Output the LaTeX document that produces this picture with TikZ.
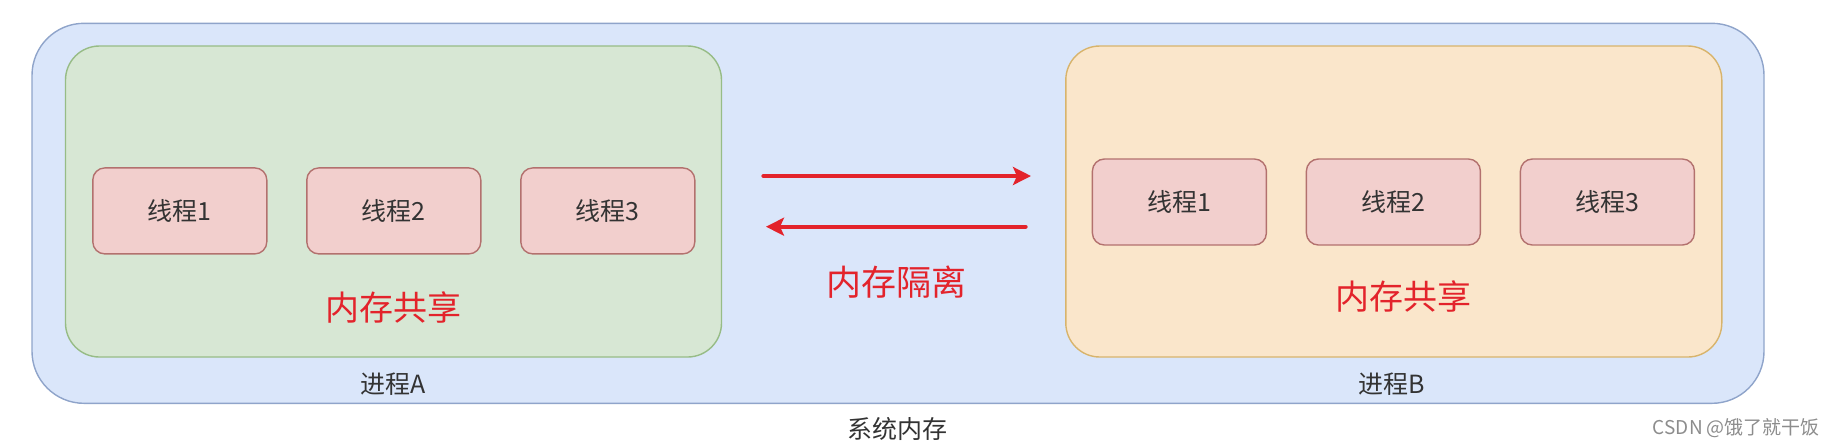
\documentclass[tikz,border=0pt]{standalone}
\usepackage{fontspec}
\setmainfont{Noto Sans CJK SC}
\usepackage{xcolor}
\usepackage{tikz}
\usetikzlibrary{arrows.meta, positioning}

\definecolor{sysfill}{HTML}{DAE6FA}
\definecolor{sysline}{HTML}{8FA4CA}
\definecolor{afill}{HTML}{D7E7D4}
\definecolor{aline}{HTML}{97BC86}
\definecolor{bfill}{HTML}{FAE6CB}
\definecolor{bline}{HTML}{D8B46C}
\definecolor{tfill}{HTML}{F2CFCD}
\definecolor{tline}{HTML}{B3716E}
\definecolor{isored}{HTML}{E3232B}

\begin{document}
\begin{tikzpicture}[
  x=0.5pt,
  y=-0.5pt,
  node distance=20pt,
  box/.style={
    draw,
    line width=0.7pt,
    inner sep=0pt,
    outer sep=0pt
  },
  proc/.style={
    box,
    minimum width=328pt,
    minimum height=155.5pt,
    rounded corners=17pt
  },
  thread/.style={
    box,
    draw=tline,
    fill=tfill,
    minimum width=87pt,
    minimum height=43pt,
    rounded corners=6pt,
    font=\fontsize{12.5}{14}\selectfont,
    text=black!80
  },
  share/.style={
    text=isored,
    font=\fontsize{17}{20}\selectfont
  },
  small/.style={
    text=black!80,
    font=\fontsize{12.5}{14}\selectfont
  },
  arr/.style={
    -{Stealth[length=9pt, width=9pt, inset=2pt]},
    line width=2.2pt,
    line cap=round,
    isored
  }
]
\useasboundingbox (0,0) rectangle (1842,447);

% system memory
\node [box, draw=sysline, fill=sysfill, minimum width=866pt, minimum height=190pt,
       rounded corners=26pt] (sys) at (898,213.3) {};
\node [small] (syslabel) at (897.5,428.8) {系统内存};

% process A
\node [proc, draw=aline, fill=afill] (procA) at (393.5,201.5) {};
\node [thread] (a1) at (179.8,210.9) {线程1};
\node [thread, right=of a1] (a2) {线程2};
\node [thread, right=of a2] (a3) {线程3};
\node [share] (shareA) at (393.5,307.8) {内存共享};
\node [small] (labelA) at (393.5,384) {进程A};

% process B
\node [proc, draw=bline, fill=bfill] (procB) at (1393.8,201.5) {};
\node [thread] (b1) at (1179.4,202) {线程1};
\node [thread, right=of b1] (b2) {线程2};
\node [thread, right=of b2] (b3) {线程3};
\node [share] (shareB) at (1403.8,296) {内存共享};
\node [small] (labelB) at (1392,384) {进程B};

% isolation
\coordinate (ab1) at (763.5,176);
\coordinate (ab2) at (1031,176);
\coordinate (ba1) at (1025.5,226.7);
\coordinate (ba2) at (766,226.7);
\draw [arr] (ab1) -- (ab2);
\draw [arr] (ba1) -- (ba2);
\node [share, font=\fontsize{17.5}{20}\selectfont] (iso) at (896,282) {内存隔离};

\node [text=black!45, font=\fontsize{9.5}{11}\selectfont, anchor=east] (mark) at (1827,428) {CSDN @饿了就干饭};
\end{tikzpicture}
\end{document}
